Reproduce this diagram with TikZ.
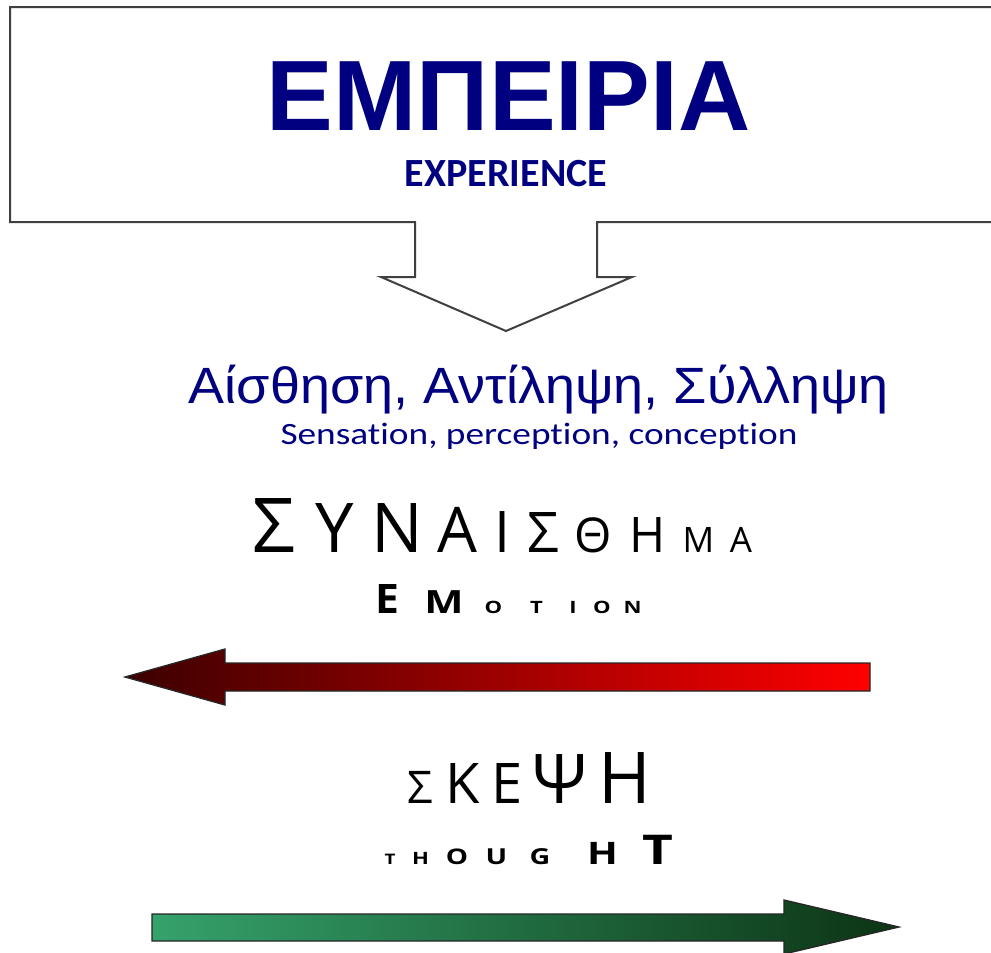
\documentclass[tikz,border=0pt]{standalone}
\usepackage{fontspec}
\usepackage{graphicx}
\setmainfont{Liberation Sans}
\newfontfamily\osans{Open Sans}
\newfontfamily\carl[Ligatures=NoCommon]{Carlito}
\definecolor{navyt}{RGB}{0,0,128}
\definecolor{boxline}{RGB}{64,64,64}
\definecolor{redL}{RGB}{60,0,0}
\definecolor{redR}{RGB}{255,0,0}
\definecolor{grL}{RGB}{53,162,108}
\definecolor{grR}{RGB}{12,52,20}
\newcommand{\fs}[1]{\fontsize{#1}{#1}\selectfont}
\tikzset{
  letr/.style={anchor=base, inner sep=0pt, outer sep=0pt},
  boxstyle/.style={draw=boxline, line width=2pt, fill=white},
  arrowline/.style={draw=black!85, line width=1.3pt},
}
\begin{document}
\begin{tikzpicture}[x=1pt,y=-1pt]
\clip (0,0) rectangle (991,953);
\fill[white] (0,0) rectangle (991,953);
% box with downward arrow
\draw[boxstyle] (10,7) -- (1005,7) -- (1005,222) -- (597,222) -- (597,277) -- (632,277)
  -- (506,331) -- (381,277) -- (415,277) -- (415,222) -- (10,222) -- cycle;
\node[letr, text=navyt, font=\bfseries\fs{100}] (emp) at (508.5,130) {ΕΜΠΕΙΡΙΑ};
\node[letr, text=navyt, font=\carl\bfseries\fs{40}] (exp) at (506,186) {EXPERIENCE};
\node[letr, text=navyt, font=\fs{51}] (ais) at (539,403) {\resizebox{700pt}{\height}{Αίσθηση, Αντίληψη, Σύλληψη}};
\node[letr, text=navyt, font=\carl\fs{31}] (sen) at (539,444) {\resizebox{517pt}{\height}{Sensation, perception, conception}};
% ΣΥΝΑΙΣΘΗΜΑ
\foreach \x/\s/\l [count=\i] in {274/75.6/Σ,334.5/68.6/Υ,397/68.6/Ν,457/63/Α,502/57.4/Ι,543/56/Σ,593.5/48/Θ,648/49/Η,698.5/35/Μ,741/35/Α}
  \node[letr, font=\osans\fs{\s}] (syn\i) at (\x,552) {\l};
% EMOTION
\foreach \x/\s/\k/\l [count=\i] in {387/40.6/1.05/E,444/32/1.3/M,493.5/17/1.3/O,536.5/17/1.3/T,573/17/1.3/I,602/17/1.3/O,632.5/17/1.3/N}
  \node[letr, font=\osans\bfseries\fs{\s}] (emo\i) at (\x,613) {\scalebox{\k}[1]{\l}};
% red arrow
\shadedraw[arrowline, left color=redL, right color=redR]
  (125,677) -- (225,649) -- (225,663) -- (870,663) -- (870,691) -- (225,691) -- (225,705) -- cycle;
% ΣΚΕΨΗ
\foreach \x/\s/\l [count=\i] in {420.5/45/Σ,462.5/56/Κ,507.5/56/Ε,560/68.6/Ψ,625/71.4/Η}
  \node[letr, font=\osans\fs{\s}] (ske\i) at (\x,803) {\l};
% THOUGHT
\foreach \x/\s/\l [count=\i] in {390/14.5/T,420.5/17/H,457/21.5/O,496.5/22/U,540/22/G,602.5/31/H,657.5/41/T}
  \node[letr, font=\osans\bfseries\fs{\s}] (tho\i) at (\x,864) {\scalebox{1.3}[1]{\l}};
% green arrow
\shadedraw[arrowline, left color=grL, right color=grR]
  (152,914) -- (784,914) -- (784,900) -- (899,927) -- (784,954) -- (784,941) -- (152,941) -- cycle;
\end{tikzpicture}
\end{document}
